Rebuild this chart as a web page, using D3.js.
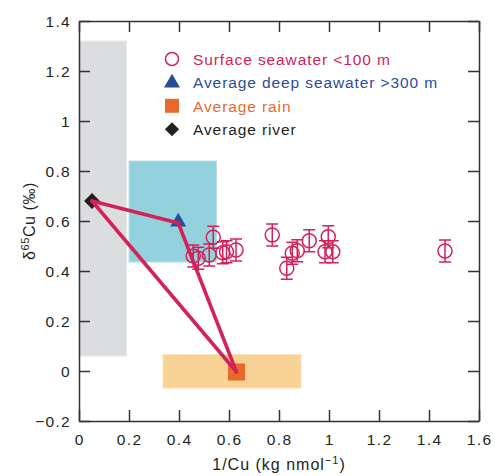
<!DOCTYPE html>
<html>
<head>
<meta charset="utf-8">
<script src="https://cdn.jsdelivr.net/npm/d3@7"></script>
<style>
  html, body { margin: 0; padding: 0; background: #fff; overflow: hidden; }
  svg { display: block; }
  text { font-family: "Liberation Sans", Arial, sans-serif; }
</style>
</head>
<body>
<div id="chart"></div>
<script>
const MARGIN = { top: 21, right: 16, bottom: 55, left: 79 };
const width = 495;
const height = 476;

// surface seawater <100 m: 1/Cu, d65Cu, error
const surfX = [0.457, 0.477, 0.521, 0.537, 0.575, 0.59, 0.628, 0.773, 0.831, 0.853, 0.873, 0.921, 0.997, 0.984, 1.015, 1.464];
const surfY = [0.46, 0.451, 0.464, 0.535, 0.473, 0.477, 0.484, 0.544, 0.411, 0.471, 0.481, 0.521, 0.537, 0.477, 0.477, 0.48];
const surfErr = [0.044, 0.044, 0.044, 0.044, 0.044, 0.044, 0.044, 0.044, 0.044, 0.044, 0.044, 0.044, 0.044, 0.044, 0.044, 0.044];

// end members
const river = [0.052, 0.68];
const deep = [0.397, 0.592];
const rain = [0.63, -0.004];

// ranges (x0, x1, y0, y1)
const riverRange = [0, 0.19, 0.06, 1.32];
const deepRange = [0.2, 0.55, 0.436, 0.84];
const rainRange = [0.336, 0.888, -0.068, 0.066];

const xTicks = [0, 0.2, 0.4, 0.6, 0.8, 1, 1.2, 1.4, 1.6];
const yTicks = [-0.2, 0, 0.2, 0.4, 0.6, 0.8, 1, 1.2, 1.4];

const legendItems = ["Surface seawater <100 m", "Average deep seawater >300 m", "Average rain", "Average river"];

const RED = "#d4215a";
const BLUE = "#2b4b9b";
const ORANGE = "#e8692b";
const BLACK = "#231f20";

const innerWidth = width - MARGIN.left - MARGIN.right;
const innerHeight = height - MARGIN.top - MARGIN.bottom;

const svg = d3.select("#chart").append("svg")
    .attr("width", width)
    .attr("height", height);

// scales in page coordinates so texts need no transforms
const x = d3.scaleLinear().domain([0, 1.6]).range([MARGIN.left, MARGIN.left + innerWidth]);
const y = d3.scaleLinear().domain([-0.2, 1.4]).range([MARGIN.top + innerHeight, MARGIN.top]);

// shaded ranges
function rangeRect(r, fill, edge) {
    svg.append("rect")
        .attr("x", x(r[0]))
        .attr("y", y(r[3]))
        .attr("width", x(r[1]) - x(r[0]))
        .attr("height", y(r[2]) - y(r[3]))
        .style("fill", fill)
        .style("stroke", edge)
        .style("stroke-width", 1);
}
rangeRect(riverRange, "#dcdddf", "#e6e7e9");
rangeRect(deepRange, "#93d2dc", "#b4e0e7");
rangeRect(rainRange, "#f8d194", "#fbe1b8");

// axes frame, ticks pointing inward on all four sides
const x0 = x.range()[0], x1 = x.range()[1];
const y0 = y.range()[0], y1 = y.range()[1];
svg.append("g")
    .attr("transform", `translate(0,${y0})`)
    .call(d3.axisBottom(x).tickValues(xTicks).tickSizeInner(-11).tickSizeOuter(0));
svg.append("g")
    .attr("transform", `translate(0,${y1})`)
    .call(d3.axisTop(x).tickValues(xTicks).tickSizeInner(-11).tickSizeOuter(0));
svg.append("g")
    .attr("transform", `translate(${x0},0)`)
    .call(d3.axisLeft(y).tickValues(yTicks).tickSizeInner(-11).tickSizeOuter(0));
svg.append("g")
    .attr("transform", `translate(${x1},0)`)
    .call(d3.axisRight(y).tickValues(yTicks).tickSizeInner(-11).tickSizeOuter(0));

svg.selectAll(".tick text").remove();
svg.selectAll(".domain, .tick line")
    .style("stroke", "#333")
    .style("stroke-width", 1.5);

// tick labels
const fmt = d3.format("");
svg.selectAll("text.xlab")
    .data(xTicks)
    .join("text")
    .attr("class", "xlab")
    .attr("x", (d) => x(d) + 0.6)
    .attr("y", y0 + 24)
    .attr("text-anchor", "middle")
    .style("font-size", "15.5px")
    .style("letter-spacing", "1.3px")
    .style("fill", BLACK)
    .text(fmt);
svg.selectAll("text.ylab")
    .data(yTicks)
    .join("text")
    .attr("class", "ylab")
    .attr("x", x0 - 8)
    .attr("y", (d) => y(d) + 5.5)
    .attr("text-anchor", "end")
    .style("font-size", "15.5px")
    .style("letter-spacing", "1.3px")
    .style("fill", BLACK)
    .text(fmt);

// surface seawater points with error bars
const surf = surfX.map((v, i) => ({ x: v, y: surfY[i], e: surfErr[i] }));
const pts = svg.selectAll("g.surf")
    .data(surf)
    .join("g")
    .attr("class", "surf")
    .style("stroke", RED)
    .style("stroke-width", 1.5)
    .style("fill", "none");
pts.append("line")
    .attr("x1", (d) => x(d.x)).attr("x2", (d) => x(d.x))
    .attr("y1", (d) => y(d.y + d.e))
    .attr("y2", (d) => y(d.y - d.e));
pts.append("line")
    .attr("x1", (d) => x(d.x) - 6).attr("x2", (d) => x(d.x) + 6)
    .attr("y1", (d) => y(d.y + d.e))
    .attr("y2", (d) => y(d.y + d.e));
pts.append("line")
    .attr("x1", (d) => x(d.x) - 6).attr("x2", (d) => x(d.x) + 6)
    .attr("y1", (d) => y(d.y - d.e))
    .attr("y2", (d) => y(d.y - d.e));
pts.append("circle")
    .attr("cx", (d) => x(d.x))
    .attr("cy", (d) => y(d.y))
    .attr("r", 7);

// end-member markers
svg.append("path")
    .attr("d", d3.symbol().type(d3.symbolSquare).size(290)())
    .attr("transform", `translate(${x(rain[0])},${y(rain[1])})`)
    .style("fill", ORANGE);
svg.append("path")
    .attr("d", d3.symbol().type(d3.symbolTriangle).size(110)())
    .attr("transform", `translate(${x(deep[0])},${y(deep[1]) - 1})`)
    .style("fill", BLUE);
svg.append("path")
    .attr("d", d3.symbol().type(d3.symbolSquare).size(125)())
    .attr("transform", `translate(${x(river[0])},${y(river[1])}) rotate(45)`)
    .style("fill", BLACK);

// mixing triangle
const mixLines = [[river, deep], [deep, rain], [river, rain]];
svg.selectAll("line.mix")
    .data(mixLines)
    .join("line")
    .attr("class", "mix")
    .attr("x1", (d) => x(d[0][0]))
    .attr("y1", (d) => y(d[0][1]))
    .attr("x2", (d) => x(d[1][0]))
    .attr("y2", (d) => y(d[1][1]))
    .style("stroke", RED)
    .style("stroke-width", 3.5)
    .style("stroke-linecap", "round");

// legend
const lx = 172, ly = 59, lstep = 23.4;
const legendColors = [RED, BLUE, ORANGE, BLACK];
svg.selectAll("text.leg")
    .data(legendItems)
    .join("text")
    .attr("class", "leg")
    .attr("x", lx + 21)
    .attr("y", (d, i) => ly + i * lstep + 6)
    .style("font-size", "15.5px")
    .style("letter-spacing", "0.9px")
    .style("fill", (d, i) => legendColors[i])
    .text((d) => d);
svg.append("circle")
    .attr("cx", lx).attr("cy", ly)
    .attr("r", 6.5)
    .style("fill", "none")
    .style("stroke", RED)
    .style("stroke-width", 1.5);
svg.append("path")
    .attr("d", d3.symbol().type(d3.symbolTriangle).size(110)())
    .attr("transform", `translate(${lx},${ly + lstep + 0.6})`)
    .style("fill", BLUE);
svg.append("rect")
    .attr("x", lx - 7).attr("y", ly + 2 * lstep - 7)
    .attr("width", 14).attr("height", 14)
    .style("fill", ORANGE);
svg.append("path")
    .attr("d", d3.symbol().type(d3.symbolSquare).size(100)())
    .attr("transform", `translate(${lx},${ly + 3 * lstep}) rotate(45)`)
    .style("fill", BLACK);

// axis titles
const xt = svg.append("text")
    .attr("text-anchor", "middle")
    .attr("x", (x0 + x1) / 2)
    .attr("y", 470)
    .style("font-size", "16px")
    .style("letter-spacing", "1px")
    .style("fill", BLACK);
xt.append("tspan").text("1/Cu (kg nmol");
xt.append("tspan").attr("dy", -6).style("font-size", "11px").text("\u22121");
xt.append("tspan").attr("dy", 6).text(")");

const ytx = 35, yty = y(0.6);
const yt = svg.append("text")
    .attr("text-anchor", "middle")
    .attr("x", ytx)
    .attr("y", yty)
    .attr("transform", `rotate(-90,${ytx},${yty})`)
    .style("font-size", "16px")
    .style("letter-spacing", "0.6px")
    .style("fill", BLACK);
yt.append("tspan").text("\u03b4");
yt.append("tspan").attr("dy", -6).style("font-size", "11px").text("65");
yt.append("tspan").attr("dy", 6).text("Cu (\u2030)");
</script>
</body>
</html>
